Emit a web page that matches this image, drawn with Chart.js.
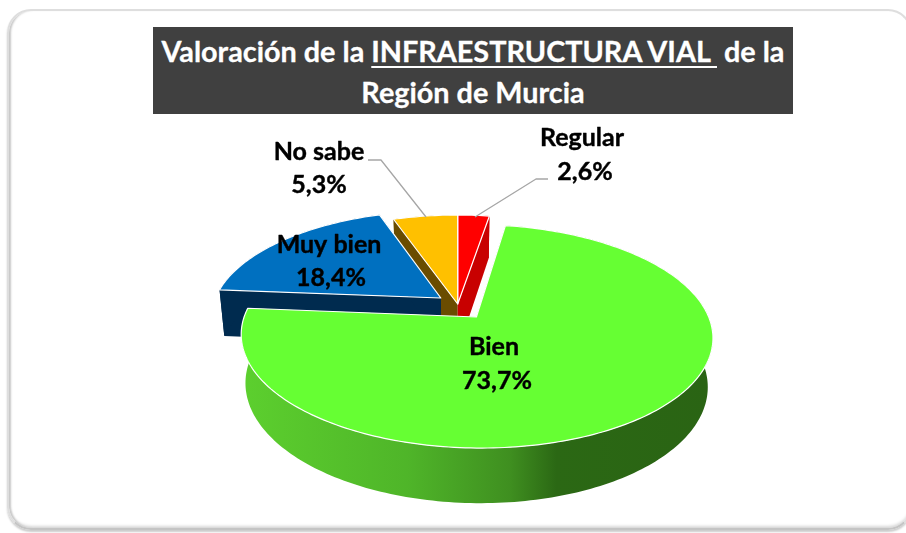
<!DOCTYPE html>
<html lang="es"><head><meta charset="utf-8">
<style>
html,body{margin:0;padding:0;background:#fff;width:906px;height:533px;overflow:hidden;font-family:Lato,"Open Sans",sans-serif}
#panel{position:absolute;left:7px;top:9px;width:905px;height:521px;border:2px solid #dedede;border-bottom:2px solid #c4c4c4;border-radius:24px;box-shadow:inset 3px 0 2px -1px #c8c8c8,inset 0 -3px 3px -1px #d8d8d8,0 2px 2px #ccc;box-sizing:border-box}
#title{position:absolute;left:153px;top:27px;width:640px;height:83px;padding-top:4px;background:#404040;color:#fff;font-weight:700;font-size:28.8px;line-height:40.5px;text-align:center;white-space:pre-wrap;-webkit-text-stroke:.3px #fff}
#title u{text-decoration-thickness:2px;text-underline-offset:4px}
canvas{position:absolute;left:0;top:0}
</style>
<script src="https://cdn.jsdelivr.net/npm/chart.js@4"></script>
</head><body>
<div id="panel"></div>
<canvas id="c" width="906" height="533"></canvas>
<div id="title">Valoración de la <u>INFRAESTRUCTURA VIAL&nbsp;</u> de la
Región de Murcia</div>
<script>
const categories=['Regular','Bien','Muy bien','No sabe'];
const percentValues=[2.6,73.7,18.4,5.3];
const sliceColors=['#ff0000','#66ff33','#0070c0','#ffc000'];
const wallColors=['#c80000','#2a6414','#002b4f','#6a4c00'];
const explodePixels=[0,126,77,0];
const wallOrder=[3,0,2,1];

// view of the tilted pie
const VIEW={ox:457.7,oy:304,b:227.5,a:104,p:.169,depth:47,shrink:.98};
const sliceNudgeX=[0,-3.5,0,0];
const labelFont='700 25px Lato, "Open Sans", sans-serif';
const labelSpots=[[582,138,585,172],[494,347,497,381],[329,245,331,278],[319,152,319,185]];
const leaders=[[[548,179],[536,179],[475,217]],null,null,[[368,160],[381,160],[426,217]]];

function project(X,Y,low,nudge){
  const d=1-VIEW.p*Y,s=low?VIEW.shrink:1;
  return [VIEW.ox+(nudge||0)+s*VIEW.b*X/d, VIEW.oy+s*VIEW.a*Y/d+(low?VIEW.depth/d:0)];
}
// the arc keeps its explode offset in its options and applies a quarter of it when drawn
function planePoint(chart,arc,ang,r){
  const R=arc.outerRadius,ca=chart.chartArea;
  const cx=(ca.left+ca.right)/2,cy=(ca.top+ca.bottom)/2;
  const mid=(arc.startAngle+arc.endAngle)/2,off=(arc.options.offset||0)/4;
  return [(arc.x-cx+off*Math.cos(mid))/R+r*Math.cos(ang),(arc.y-cy+off*Math.sin(mid))/R+r*Math.sin(ang)];
}
function rim(chart,arc,low){
  const n=Math.max(4,Math.ceil((arc.endAngle-arc.startAngle)/.02)),pts=[];
  for(let i=0;i<=n;i++){
    const t=arc.startAngle+(arc.endAngle-arc.startAngle)*i/n;
    const q=planePoint(chart,arc,t,1);
    pts.push(project(q[0],q[1],low,arc.$nudge));
  }
  return pts;
}
function poly(ctx,pts){ctx.beginPath();pts.forEach((p,i)=>i?ctx.lineTo(p[0],p[1]):ctx.moveTo(p[0],p[1]));ctx.closePath();}

Chart.ArcElement.prototype.draw=function(ctx){
  const chart=this.$chart;
  const c=planePoint(chart,this,0,0);
  const pts=[project(c[0],c[1],false,this.$nudge)].concat(rim(chart,this,false));
  poly(ctx,pts);
  ctx.fillStyle=this.options.backgroundColor;ctx.fill();
  ctx.strokeStyle=this.options.borderColor;ctx.lineWidth=this.options.borderWidth;ctx.lineJoin='round';ctx.stroke();
};

const pie3d={id:'pie3d',
  beforeDatasetsDraw(chart){
    const ctx=chart.ctx,arcs=chart.getDatasetMeta(0).data;
    arcs.forEach((a,i)=>{a.$chart=chart;a.$nudge=sliceNudgeX[i];});
    wallOrder.forEach(i=>{
      const arc=arcs[i];
      let fill=wallColors[i];
      if(categories[i]==='Bien'){
        const g=ctx.createLinearGradient(245,0,710,0);
        g.addColorStop(0,'#5ccf2e');g.addColorStop(.35,'#4fb529');g.addColorStop(.57,'#3f8f20');g.addColorStop(.67,'#2b6814');g.addColorStop(1,'#2a6414');
        fill=g;
      }
      const c=planePoint(chart,arc,0,0),topC=project(c[0],c[1],false,arc.$nudge),lowC=project(c[0],c[1],true,arc.$nudge);
      const up=rim(chart,arc,false),lo=rim(chart,arc,true);
      ctx.fillStyle=fill;
      poly(ctx,[topC,up[0],lo[0],lowC]);ctx.fill();
      poly(ctx,[topC,up[up.length-1],lo[lo.length-1],lowC]);ctx.fill();
      poly(ctx,up.concat(lo.slice().reverse()));ctx.fill();
    });
  },
  afterDatasetsDraw(chart){
    const ctx=chart.ctx;
    ctx.save();
    ctx.strokeStyle='#a6a6a6';ctx.lineWidth=1.3;
    leaders.forEach(l=>{ if(!l)return; ctx.beginPath();l.forEach((p,i)=>i?ctx.lineTo(p[0],p[1]):ctx.moveTo(p[0],p[1]));ctx.stroke();});
    ctx.fillStyle='#000';ctx.strokeStyle='#000';ctx.lineWidth=.4;ctx.font=labelFont;ctx.textAlign='center';ctx.textBaseline='middle';
    categories.forEach((name,i)=>{
      const s=labelSpots[i];
      const pct=percentValues[i].toFixed(1).replace('.',',')+'%';
      ctx.fillText(name,s[0],s[1]);ctx.strokeText(name,s[0],s[1]);
      ctx.fillText(pct,s[2],s[3]);ctx.strokeText(pct,s[2],s[3]);
    });
    ctx.restore();
  }
};

new Chart(document.getElementById('c'),{
  type:'pie',
  data:{labels:categories,datasets:[{data:percentValues,backgroundColor:sliceColors,borderColor:'#ffffff',borderWidth:1.2,offset:explodePixels}]},
  options:{responsive:false,animation:false,events:[],plugins:{legend:{display:false},tooltip:{enabled:false},title:{display:false}}},
  plugins:[pie3d]
});
</script>
</body></html>
